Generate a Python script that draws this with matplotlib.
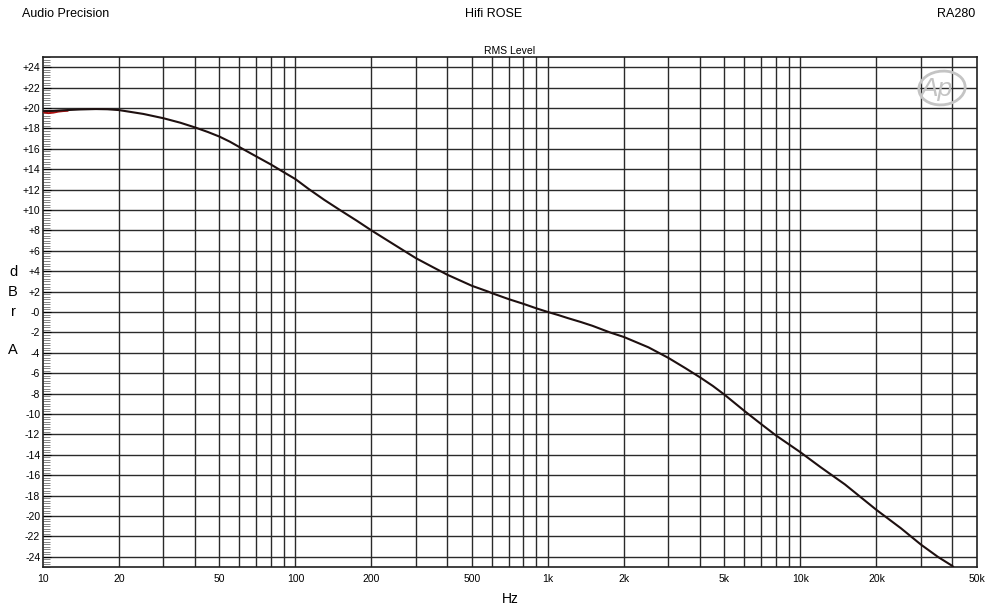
import numpy as np
import matplotlib
matplotlib.use('Agg')
import matplotlib.pyplot as plt
from matplotlib.patches import Ellipse

plt.rcParams['font.family'] = ['Liberation Sans', 'DejaVu Sans']

# measured response, Hz / dBrA
freq = [10, 11, 12, 14, 16.2, 18, 20, 25, 30, 35, 40, 45, 50, 55, 60, 70, 80,
        90, 100, 113, 130, 150, 175, 200, 250, 300, 350, 400, 450, 500, 580,
        600, 700, 800, 900, 1000, 1100, 1200, 1350, 1500, 1760, 2000, 2500,
        3000, 3500, 4000, 4500, 5000, 6000, 7000, 8000, 10000, 12000, 15000,
        20000, 25000, 30000, 35000, 40000, 41500]
level = [19.7, 19.72, 19.78, 19.86, 19.9, 19.88, 19.8, 19.42, 19.0, 18.56,
         18.1, 17.65, 17.2, 16.7, 16.17, 15.25, 14.46, 13.7, 13.03, 12.05, 11.0,
         10.0, 8.95, 8.0, 6.5, 5.28, 4.4, 3.65, 3.08, 2.57, 2.0, 1.85, 1.26, 0.8,
         0.36, 0.0, -0.3, -0.6, -0.98, -1.35, -2.0, -2.45, -3.46, -4.5, -5.5,
         -6.4, -7.25, -8.1, -9.7, -11.0, -12.1, -13.75, -15.2, -16.9, -19.4,
         -21.2, -22.8, -24.0, -24.9, -25.5]
# second channel only separates at the very bottom end
freq_r = [10, 10.5, 11, 11.5, 12, 12.5]
level_r = [19.6, 19.5, 19.55, 19.65, 19.7, 19.73]

yticks = list(range(-24, 25, 2))
ytick_labels = ['-0' if v == 0 else ('+%d' % v if v > 0 else '%d' % v) for v in yticks]
xticks = [10, 20, 50, 100, 200, 500, 1000, 2000, 5000, 10000, 20000, 50000]
xtick_labels = ['10', '20', '50', '100', '200', '500', '1k', '2k', '5k', '10k', '20k', '50k']

fig = plt.figure(figsize=(9.9, 6.12), dpi=100)
ax = fig.add_axes([0.0434, 0.0735, 0.9434, 0.8333])

ax.set_xscale('log')
ax.set_xlim(10, 50000)
ax.set_ylim(-25, 25)

# grid: every 1..9 multiple of each decade, every 2 dB
grid_f = [m * 10 ** d for d in range(1, 5) for m in range(1, 10) if 10 < m * 10 ** d < 50000]
for f in grid_f:
    ax.axvline(f, color='#2a2a2a', lw=1.0, zorder=1)
for v in yticks:
    ax.axhline(v, color='#2a2a2a', lw=1.0, zorder=1)

ax.plot(freq_r, level_r, color='#b01010', lw=1.4, zorder=3)
ax.plot(freq, level, color='#1e1010', lw=1.5, zorder=4, solid_joinstyle='round')

ax.set_xticks(xticks)
ax.set_xticklabels(xtick_labels)
ax.xaxis.set_minor_locator(matplotlib.ticker.NullLocator())
ax.set_yticks(yticks)
ax.set_yticklabels(ytick_labels)
ax.set_yticks(np.arange(-25, 25.01, 0.25), minor=True)
ax.tick_params(axis='y', which='major', direction='in', length=6, width=0.8, labelsize=7.5, pad=2)
ax.tick_params(axis='y', which='minor', direction='in', length=5, width=0.5, color='#555555')
ax.tick_params(axis='x', which='major', length=0, labelsize=7.5, pad=5)
for s in ax.spines.values():
    s.set_linewidth(1.2)
    s.set_color('#202020')

ax.set_xlabel('Hz', fontsize=10, labelpad=6)

# vertical stacked unit label
for ch, yy in zip('dBrA', [272, 292, 312, 350]):
    fig.text(13 / 990, 1 - yy / 612, ch, fontsize=10.5, ha='center', va='center')

fig.text(22 / 990, 1 - 14 / 612, 'Audio Precision', fontsize=9, ha='left', va='center')
fig.text(494 / 990, 1 - 14 / 612, 'Hifi ROSE', fontsize=9, ha='center', va='center')
fig.text(975 / 990, 1 - 14 / 612, 'RA280', fontsize=9, ha='right', va='center')
ax.set_title('RMS Level', fontsize=7.5, pad=2)

# Ap watermark
fig.text(936 / 990, 1 - 89 / 612, 'Ap', fontsize=19, style='italic', color='#c4c4c4',
         ha='center', va='center', zorder=0)
fig.patches.append(Ellipse((942 / 990, 1 - 88 / 612), 46 / 990, 34 / 612, angle=-10,
                           transform=fig.transFigure, fill=False, ec='#c4c4c4', lw=2.0))

fig.savefig('out.png', dpi=100)
